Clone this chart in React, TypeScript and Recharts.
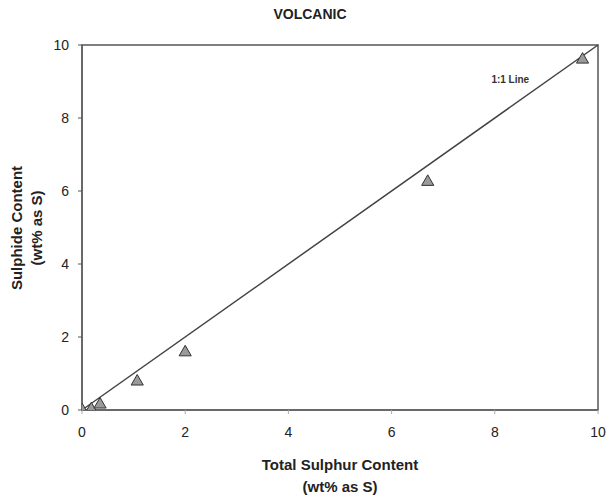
import React from "react";
import {
  ScatterChart,
  Scatter,
  XAxis,
  YAxis,
  ReferenceLine,
  ReferenceArea,
  ReferenceDot,
} from "recharts";

const totalSulphur = [0.0, 0.18, 0.35, 1.07, 2.0, 6.7, 9.7];
const sulphide = [0.0, 0.02, 0.15, 0.78, 1.58, 6.25, 9.6];
const xTicks = [0, 2, 4, 6, 8, 10];
const yTicks = [0, 2, 4, 6, 8, 10];

const points = totalSulphur.map((x, i) => ({ x, y: sulphide[i] }));

const FONT = "'Liberation Sans', Arial, sans-serif";

const App: React.FC = () => {
  return (
    <div style={{ position: "absolute", left: 0, top: 0, width: 611, height: 500, background: "#fff", fontFamily: FONT }}>
      <div style={{ position: "absolute", left: 0, width: 620, top: 6, textAlign: "center", fontWeight: "bold", fontSize: 14, color: "#222" }}>
        VOLCANIC
      </div>
      <ScatterChart width={611} height={500} margin={{ top: 45, right: 13, bottom: 60, left: 0 }}>
        <XAxis
          type="number"
          dataKey="x"
          domain={[0, 10]}
          ticks={xTicks}
          height={30}
          tick={{ fill: "#222", fontSize: 14, fontFamily: FONT }}
          stroke="#555"
          tickLine={{ stroke: "#aaa" }}
          tickSize={4}
          tickMargin={13}
          allowDataOverflow
        />
        <YAxis
          type="number"
          dataKey="y"
          domain={[0, 10]}
          ticks={yTicks}
          width={82}
          tick={{ fill: "#222", fontSize: 14, fontFamily: FONT }}
          stroke="#555"
          tickLine={{ stroke: "#555" }}
          tickSize={4}
          tickMargin={9}
          allowDataOverflow
        />
        <ReferenceArea x1={0} x2={10} y1={0} y2={10} fill="none" stroke="#555" strokeWidth={1.5} />
        <ReferenceLine segment={[{ x: 0, y: 0 }, { x: 10, y: 10 }]} stroke="#444" strokeWidth={1.5} />
        <ReferenceDot
          x={8.3}
          y={9.05}
          r={0}
          stroke="none"
          label={{ value: "1:1 Line", position: "center", fill: "#333", fontSize: 10, fontWeight: "bold", fontFamily: FONT }}
        />
        <Scatter
          data={points}
          shape="triangle"
          size={45}
          fill="#9a9a9a"
          stroke="#333"
          strokeWidth={1}
          legendType="triangle"
          isAnimationActive={false}
        />
      </ScatterChart>
      <div
        style={{
          position: "absolute",
          left: 27,
          top: 228,
          transform: "translate(-50%, -50%) rotate(-90deg)",
          textAlign: "center",
          fontWeight: "bold",
          fontSize: 15,
          lineHeight: "20px",
          whiteSpace: "nowrap",
          color: "#222",
        }}
      >
        Sulphide Content
        <br />
        (wt% as S)
      </div>
      <div
        style={{
          position: "absolute",
          left: 140,
          width: 400,
          top: 454,
          textAlign: "center",
          fontWeight: "bold",
          fontSize: 15,
          lineHeight: "22px",
          color: "#222",
        }}
      >
        Total Sulphur Content
        <br />
        (wt% as S)
      </div>
    </div>
  );
};

export default App;
